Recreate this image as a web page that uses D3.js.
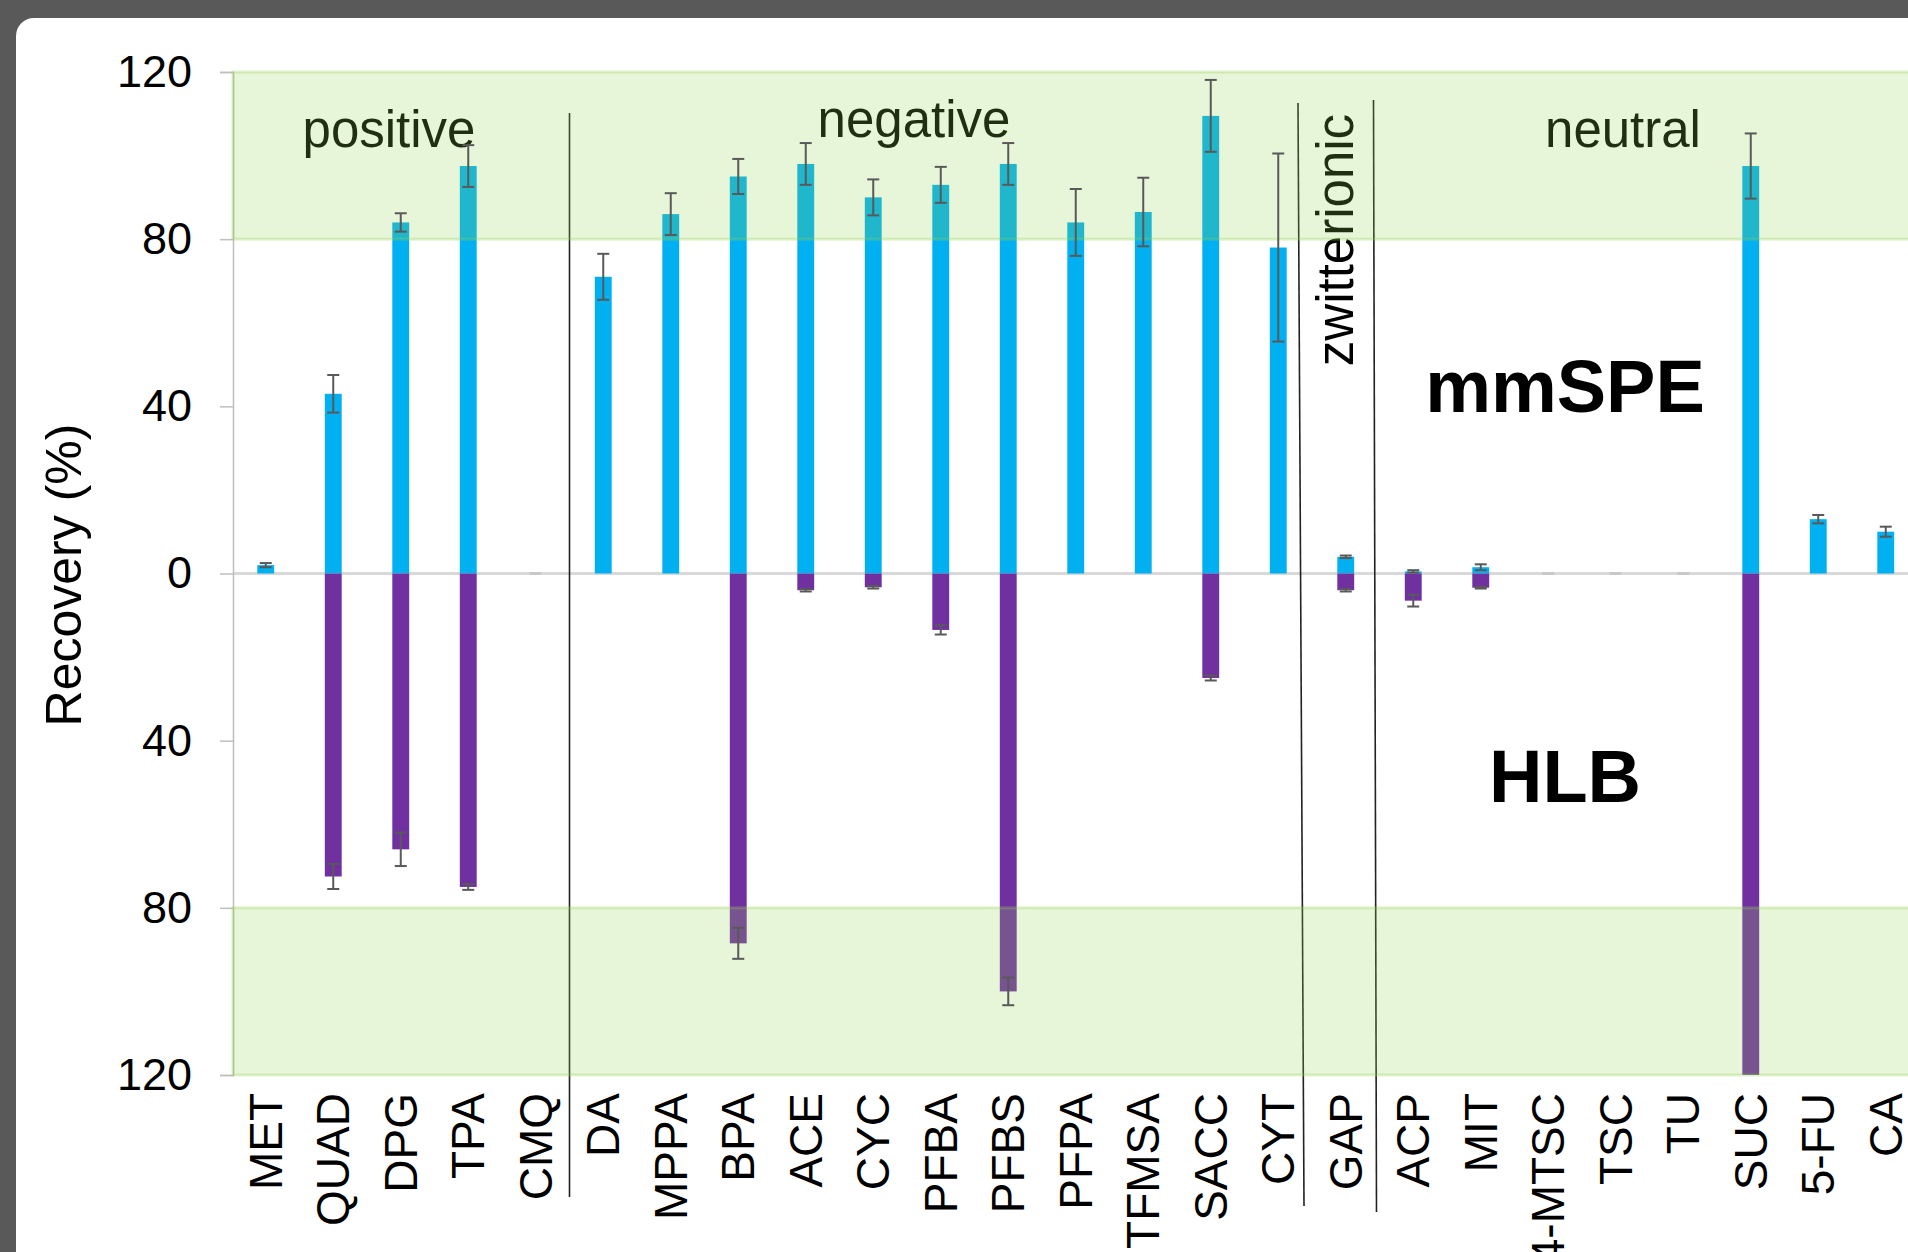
<!DOCTYPE html>
<html>
<head>
<meta charset="utf-8">
<script src="https://cdn.jsdelivr.net/npm/d3@7"></script>
<style>
  body { margin: 0; background: #fff; }
  svg { display: block; font-family: "Liberation Sans", Arial, sans-serif; }
</style>
</head>
<body>
<script>
// data
var categories = ['MET', 'QUAD', 'DPG', 'TPA', 'CMQ', 'DA', 'MPPA', 'BPA', 'ACE', 'CYC',
                  'PFBA', 'PFBS', 'PFPA', 'TFMSA', 'SACC', 'CYT', 'GAP', 'ACP', 'MIT',
                  '4-MTSC', 'TSC', 'TU', 'SUC', '5-FU', 'CA'];
var mmspe    = [2, 43, 84, 97.5, 0, 71, 86, 95, 98, 90, 93, 98, 84, 86.5, 109.5, 78,
                4, 0.5, 1.5, 0, 0, 0, 97.5, 13, 10];
var mmspeErr = [0.5, 4.5, 2.2, 5, 0, 5.5, 5, 4.2, 5, 4.3, 4.3, 5, 8, 8.2, 8.6, 22.5,
                0.3, 0.3, 0.7, 0, 0, 0, 7.8, 1, 1.2];
var hlb      = [0, 72.5, 66, 75, 0, 0, 0, 88.5, 4, 3.3, 13.5, 100, 0, 0, 25, 0,
                4, 6.5, 3.4, 0, 0, 0, 120, 0, 0];
var hlbErr   = [0, 3, 4, 0.7, 0, 0, 0, 3.7, 0.3, 0.3, 1.1, 3.3, 0, 0, 0.6, 0,
                0.3, 1.4, 0.2, 0, 0, 0, 0, 0, 0];
var yTicks = [-120, -80, -40, 0, 40, 80, 120];

var w = 1908;
var h = 1252;

var svg = d3.select('body')
    .append('svg')
    .attr('width', w)
    .attr('height', h)
    .style('overflow', 'hidden');

// frame
svg.append('rect').attr('width', w).attr('height', h).attr('fill', '#595959');
svg.append('rect')
    .attr('x', 16).attr('y', 18)
    .attr('width', w + 40).attr('height', h + 40)
    .attr('rx', 18)
    .attr('fill', '#fff');

var x = d3.scaleBand()
    .domain(categories)
    .range([232, 232 + 67.5 * categories.length]);

var y = d3.scaleLinear()
    .domain([-120, 120])
    .range([1075, 72]);

var barW = x.bandwidth() * 0.25;
var cx = d => x(d) + x.bandwidth() / 2;

// zero line
svg.append('line')
    .attr('x1', 233).attr('x2', w)
    .attr('y1', y(0)).attr('y2', y(0))
    .attr('stroke', '#d9d9d9')
    .attr('stroke-width', 3);

// y axis
var yAxis = d3.axisLeft(y)
    .tickValues(yTicks)
    .tickSize(13)
    .tickPadding(28)
    .tickFormat(d => Math.abs(d));

var gy = svg.append('g')
    .attr('transform', 'translate(233,0)')
    .call(yAxis);
gy.select('.domain').attr('stroke', '#bfbfbf').attr('stroke-width', 1.5);
gy.selectAll('.tick line').attr('stroke', '#bfbfbf').attr('stroke-width', 1.5);
gy.selectAll('.tick text')
    .attr('font-size', 45)
    .attr('font-family', '"Liberation Sans", Arial, sans-serif')
    .attr('fill', '#000');

svg.append('text')
    .attr('transform', 'translate(81,575) rotate(-90)')
    .attr('text-anchor', 'middle')
    .attr('font-size', 50)
    .text('Recovery (%)');

// group labels (under the translucent band, like the original)
var groupLabels = [
    {text: 'positive', x: 389, y: 147},
    {text: 'negative', x: 914, y: 137},
    {text: 'neutral', x: 1623, y: 147}
];
svg.selectAll('text.group')
    .data(groupLabels)
    .enter()
    .append('text')
    .attr('class', 'group')
    .attr('x', d => d.x)
    .attr('y', d => d.y)
    .attr('text-anchor', 'middle')
    .attr('font-size', 51)
    .text(d => d.text);

svg.append('text')
    .attr('transform', 'translate(1353,240) rotate(-90)')
    .attr('text-anchor', 'middle')
    .attr('font-size', 51)
    .text('zwitterionic');

// group dividers: after which category, small offset from the band edge
var dividers = [
    {after: 'CMQ', dx1: 0, dx2: 0, y1: 113, y2: 1197},
    {after: 'CYT', dx1: -14, dx2: -8, y1: 103, y2: 1206},
    {after: 'GAP', dx1: -6, dx2: -3, y1: 100, y2: 1212}
];
svg.selectAll('line.div')
    .data(dividers)
    .enter()
    .append('line')
    .attr('class', 'div')
    .attr('x1', d => x(d.after) + x.bandwidth() + d.dx1)
    .attr('x2', d => x(d.after) + x.bandwidth() + d.dx2)
    .attr('y1', d => d.y1)
    .attr('y2', d => d.y2)
    .attr('stroke', '#222')
    .attr('stroke-width', 1.6);

// bars
svg.selectAll('rect.mm')
    .data(categories)
    .enter()
    .append('rect')
    .attr('class', 'mm')
    .attr('x', d => cx(d) - barW / 2)
    .attr('y', (d, i) => y(mmspe[i]))
    .attr('width', barW)
    .attr('height', (d, i) => y(0) - y(mmspe[i]))
    .attr('fill', '#00b0f0');

svg.selectAll('rect.hlb')
    .data(categories)
    .enter()
    .append('rect')
    .attr('class', 'hlb')
    .attr('x', d => cx(d) - barW / 2)
    .attr('y', y(0))
    .attr('width', barW)
    .attr('height', (d, i) => y(-hlb[i]) - y(0))
    .attr('fill', '#7030a0');

// 80-120 % target bands
[[80, 120], [-120, -80]].forEach(function (b) {
    svg.append('rect')
        .attr('x', 233)
        .attr('y', y(b[1]))
        .attr('width', w)
        .attr('height', y(b[0]) - y(b[1]))
        .attr('fill', 'rgba(146,208,80,0.22)')
        .attr('stroke', 'rgba(146,208,80,0.3)')
        .attr('stroke-width', 3);
});

// error bars
function errBars(cls, vals, errs, sign) {
    var g = svg.append('g')
        .attr('stroke', '#595959')
        .attr('stroke-width', 2);
    var idx = categories.map((d, i) => i).filter(i => errs[i] > 0);
    g.selectAll('line.v' + cls)
        .data(idx)
        .enter()
        .append('line')
        .attr('x1', i => cx(categories[i]))
        .attr('x2', i => cx(categories[i]))
        .attr('y1', i => y(sign * (vals[i] - errs[i])))
        .attr('y2', i => y(sign * (vals[i] + errs[i])));
    [-1, 1].forEach(function (s) {
        g.selectAll('line.c' + cls + s)
            .data(idx)
            .enter()
            .append('line')
            .attr('x1', i => cx(categories[i]) - 6)
            .attr('x2', i => cx(categories[i]) + 6)
            .attr('y1', i => y(sign * (vals[i] + s * errs[i])))
            .attr('y2', i => y(sign * (vals[i] + s * errs[i])));
    });
}
errBars('mm', mmspe, mmspeErr, 1);
errBars('hl', hlb, hlbErr, -1);

// zero-value markers
svg.selectAll('line.zero')
    .data(categories.filter((d, i) => mmspe[i] === 0 && hlb[i] === 0))
    .enter()
    .append('line')
    .attr('x1', d => cx(d) - 6)
    .attr('x2', d => cx(d) + 6)
    .attr('y1', y(0))
    .attr('y2', y(0))
    .attr('stroke', '#c8c8c8')
    .attr('stroke-width', 3);

// category labels
svg.selectAll('text.cat')
    .data(categories)
    .enter()
    .append('text')
    .attr('class', 'cat')
    .attr('transform', d => 'translate(' + cx(d) + ',1093) rotate(-90)')
    .attr('text-anchor', 'end')
    .attr('dy', '0.35em')
    .attr('font-size', 46)
    .text(d => d);

// method labels
svg.append('text')
    .attr('x', 1565).attr('y', 412)
    .attr('text-anchor', 'middle')
    .attr('font-size', 74)
    .attr('font-weight', 'bold')
    .text('mmSPE');

svg.append('text')
    .attr('x', 1565).attr('y', 802)
    .attr('text-anchor', 'middle')
    .attr('font-size', 74)
    .attr('font-weight', 'bold')
    .text('HLB');
</script>
</body>
</html>
